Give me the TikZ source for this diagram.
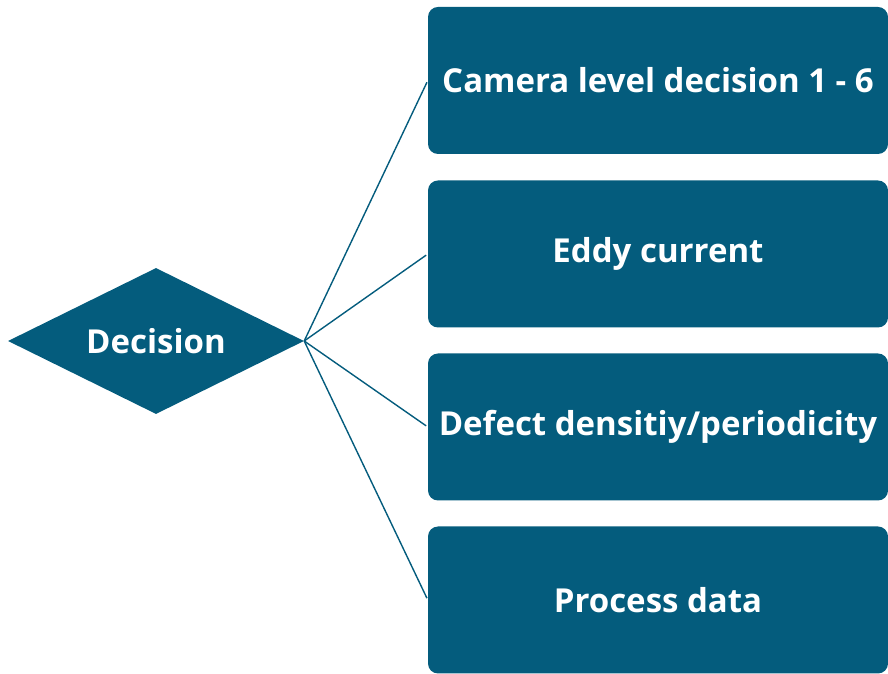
\documentclass[tikz,border=0pt]{standalone}
\usepackage{fontspec}
\setmainfont{Open Sans}
\usepackage{tikz}
\usetikzlibrary{shapes.geometric}
\definecolor{teal}{RGB}{4,92,125}

\begin{document}
\begin{tikzpicture}[x=1pt,y=1pt,
						decisionnode/.style={diamond, fill=teal, text=white, font=\bfseries\fontsize{33}{38}\selectfont, inner sep=0pt, aspect=2.03, minimum width=296pt, minimum height=146pt},
						boxnode/.style={rectangle, rounded corners=10pt, fill=teal, text=white, font=\bfseries\fontsize{33}{38}\selectfont, inner sep=0pt, minimum width=460pt, minimum height=147pt},
						]
						\useasboundingbox (0,0) rectangle (888,674);
						%Nodes
						\node[decisionnode]   (dec) 	at	(156,333) 	{Decision};
						\node[boxnode]        (b1) 	at 	(658,593.5)     {Camera level decision 1 - 6};
						\node[boxnode]        (b2) 	at 	(658,420)       {Eddy current};
						\node[boxnode]        (b3) 	at 	(658,247)       {Defect densitiy/periodicity};
						\node[boxnode]        (b4) 	at 	(658,74)        {Process data};

						%Lines
						\draw[teal,line width=1.4pt,shorten >=2pt] (dec.east) -- (b1.west);
						\draw[teal,line width=1.4pt,shorten >=2pt] (dec.east) -- (b2.west);
						\draw[teal,line width=1.4pt,shorten >=2pt] (dec.east) -- (b3.west);
						\draw[teal,line width=1.4pt,shorten >=2pt] (dec.east) -- (b4.west);
					\end{tikzpicture}
\end{document}
